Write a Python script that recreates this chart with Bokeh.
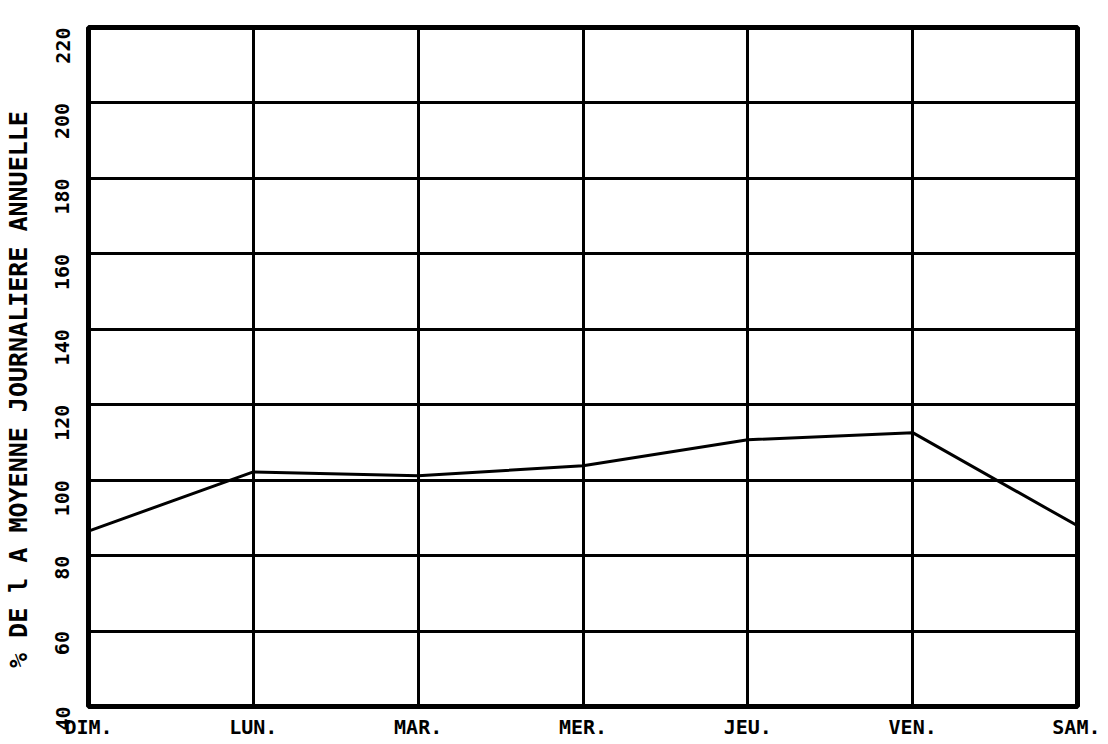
import math
from bokeh.plotting import figure
from bokeh.models import FixedTicker, Range1d
from bokeh.embed import file_html
from bokeh.resources import INLINE

days = ["DIM.", "LUN.", "MAR.", "MER.", "JEU.", "VEN.", "SAM."]
values = [86.5, 102.2, 101.2, 103.8, 110.7, 112.6, 87.9]
y_ticks = [40, 60, 80, 100, 120, 140, 160, 180, 200, 220]
y_title = "% DE l A MOYENNE JOURNALIERE ANNUELLE"

FONT = "DejaVu Sans Mono"
x = list(range(len(days)))

p = figure(width=1100, height=742, output_backend="svg", toolbar_location=None,
           x_range=Range1d(0, len(days) - 1), y_range=Range1d(40, 220),
           min_border_left=88, min_border_right=23, min_border_top=27, min_border_bottom=36)

p.line(x, values, line_color="black", line_width=3)

p.outline_line_color = "black"
p.outline_line_width = 5
p.outline_line_alpha = 1

p.xaxis.ticker = FixedTicker(ticks=x)
p.xaxis.major_label_overrides = {i: d for i, d in enumerate(days)}
p.yaxis.ticker = FixedTicker(ticks=y_ticks)
p.yaxis.major_label_orientation = math.pi / 2

for ax in (p.xaxis[0], p.yaxis[0]):
    ax.axis_line_color = None
    ax.major_tick_line_color = None
    ax.minor_tick_line_color = None
    ax.major_label_text_font = FONT
    ax.major_label_text_font_style = "bold"
    ax.major_label_text_font_size = "20px"
    ax.major_label_text_color = "black"

p.xaxis.major_label_standoff = 2
p.yaxis.major_label_standoff = 20

p.yaxis.axis_label = y_title + "\u00a0" * 3
p.yaxis.axis_label_text_font = FONT
p.yaxis.axis_label_text_font_style = "bold"
p.yaxis.axis_label_text_font_size = "25px"
p.yaxis.axis_label_text_color = "black"
p.yaxis.axis_label_standoff = 13

p.xgrid.ticker = FixedTicker(ticks=x)
p.ygrid.ticker = FixedTicker(ticks=y_ticks)
for g in (p.xgrid[0], p.ygrid[0]):
    g.grid_line_color = "black"
    g.grid_line_width = 3
    g.grid_line_alpha = 1

p.background_fill_color = "white"
p.border_fill_color = "white"

open("out.html", "w").write(file_html(p, INLINE))
